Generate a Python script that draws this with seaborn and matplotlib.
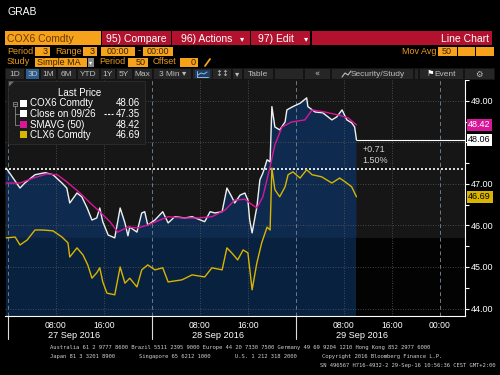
import numpy as np
import matplotlib
matplotlib.use("Agg")
import matplotlib.pyplot as plt
import matplotlib.transforms as mtransforms
from matplotlib.patches import Rectangle, Polygon
from matplotlib.lines import Line2D
import seaborn as sns

# ---------------- data (hours since 27 Sep 2016 00:00) ----------------
cox_hours = [-0.3, 2.0, 2.8, 4.5, 6.2, 7.5, 9.0, 9.8, 10.3, 11.5, 12.3, 13.2, 14.0, 14.8, 15.3, 15.8,
             16.7, 17.8, 18.7, 19.5, 20.0, 20.3, 21.5, 22.3, 22.8, 23.3, 24.5, 25.8, 26.7, 27.8, 29.5,
             30.7, 32.8, 33.7, 34.5, 35.7, 36.5, 37.3, 37.8, 38.7, 39.5, 40.0, 40.3, 40.7, 41.5, 42.0,
             42.5, 43.2, 43.7, 44.0, 44.5, 45.3, 46.2, 46.5, 47.5, 48.7, 49.8, 50.0, 51.2, 52.5, 54.0,
             54.8, 55.7, 56.5, 57.3, 57.8, 58.1]
cox_price = [47.38, 46.90, 47.02, 47.22, 47.27, 47.22, 47.02, 46.90, 46.54, 46.78, 46.69, 46.42, 46.13,
             46.18, 46.42, 46.09, 45.77, 45.70, 46.42, 46.06, 45.75, 45.96, 45.84, 46.30, 46.33, 46.01,
             46.13, 46.33, 46.06, 46.21, 46.18, 46.21, 46.09, 46.33, 46.30, 46.33, 46.90, 46.69, 46.54,
             46.73, 46.78, 46.61, 46.13, 45.82, 46.45, 47.10, 47.26, 47.58, 47.53, 48.86, 48.37, 48.30,
             48.49, 48.78, 48.86, 48.94, 49.07, 48.86, 48.73, 48.71, 48.54, 48.61, 48.78, 48.54, 48.47,
             48.37, 48.06]

sma_hours = [-0.3, 2.0, 4.2, 6.5, 8.2, 9.8, 12.0, 13.7, 15.3, 17.0, 18.3, 20.0, 21.7, 23.3, 26.7, 29.0,
             31.7, 34.0, 36.2, 37.8, 39.5, 40.5, 41.5, 42.5, 43.7, 44.5, 45.7, 47.3, 49.5, 50.7, 52.8,
             55.0, 56.7, 58.1]
sma_price = [47.02, 47.02, 47.14, 47.24, 47.22, 47.05, 46.78, 46.54, 46.33, 46.09, 45.84, 45.96, 45.94,
             46.01, 46.21, 46.18, 46.18, 46.21, 46.37, 46.61, 46.63, 46.52, 46.42, 46.69, 47.41, 47.94,
             48.37, 48.49, 48.54, 48.78, 48.73, 48.66, 48.59, 48.42]

clx_hours = [-0.3, 1.2, 2.0, 3.2, 4.5, 5.8, 7.5, 9.0, 10.0, 10.3, 11.5, 12.5, 13.3, 14.0, 14.8, 15.3,
             15.8, 16.5, 17.8, 18.7, 19.5, 20.3, 21.5, 22.3, 23.3, 24.5, 25.8, 26.7, 29.0, 30.7, 32.8,
             34.0, 35.7, 36.5, 37.3, 38.3, 39.2, 40.0, 40.7, 41.5, 42.3, 43.2, 43.7, 44.0, 44.5, 45.3,
             46.2, 46.7, 47.5, 48.7, 49.8, 50.7, 52.3, 54.0, 55.3, 56.2, 57.3, 58.1]
clx_price = [45.70, 45.72, 45.53, 45.65, 45.89, 45.89, 45.87, 45.72, 45.58, 45.24, 45.46, 45.29, 45.05,
             44.73, 44.86, 44.98, 44.64, 44.37, 44.33, 45.00, 44.61, 44.73, 44.52, 44.93, 45.05, 44.93,
             44.98, 44.64, 44.69, 44.81, 44.76, 44.98, 44.93, 45.46, 45.34, 45.17, 45.41, 45.34, 44.45,
             45.10, 45.58, 45.96, 45.89, 47.38, 46.86, 46.69, 46.93, 47.22, 47.29, 47.14, 47.34, 47.22,
             47.17, 47.02, 47.14, 47.05, 46.93, 46.69]

prev_close = 47.35
last_cox = 48.06
last_sma = 48.42
last_clx = 46.69
change_abs = "+0.71"
change_pct = "1.50%"

legend_names = ["COX6 Comdty", "Close on 09/26", "SMAVG (50)", "CLX6 Comdty"]
legend_values = ["48.06", "47.35", "48.42", "46.69"]
day_starts = [0, 24, 48]
day_labels = ["27 Sep 2016", "28 Sep 2016", "29 Sep 2016"]
day_label_pos = [11, 35, 59]
hour_ticks = [8, 16, 32, 40, 56, 64, 72]
hour_labels = ["08:00", "16:00", "08:00", "16:00", "08:00", "16:00", "00:00"]
y_ticks = [44, 45, 46, 47, 48, 49]

# ---------------- style ----------------
sns.set_style("dark")
FONT = ['Liberation Sans Narrow', 'Liberation Sans', 'DejaVu Sans']
plt.rcParams['font.family'] = FONT

WHITE = '#f0f0f0'
MAGENTA = '#d8169a'
YELLOW = '#d9b400'
ORANGE = '#f7a21b'
RED = '#b3122f'

fig = plt.figure(figsize=(5, 3.75), dpi=100, facecolor='black')
ax = fig.add_axes([5 / 500, 1 - 316 / 375, 460 / 500, 236 / 375])

ymin, ymax = 43.82, 49.5
xmin, xmax = -0.5, 76.2
ax.set_xlim(xmin, xmax)
ax.set_ylim(ymin, ymax)
ax.set_facecolor('#161616')
band = 45.7
ax.axhspan(ymin, band, color='#030303', lw=0, zorder=0.2)

h = np.array(cox_hours)
v = np.array(cox_price)
ax.fill_between(h, band, v, where=v > band, interpolate=True, color='#0e2b4f', lw=0, zorder=0.5)
ax.fill_between(h, ymin, np.minimum(v, band), color='#08213f', lw=0, zorder=0.5)

# grid
for t in y_ticks:
    ax.axhline(t, color='#5a5a5a', lw=0.6, ls=(0, (1, 2)), zorder=1)
for t in np.arange(8, 77, 8):
    if t % 24 == 0:
        ax.axvline(t, color='#6a7a8a', lw=0.7, ls=(0, (4, 3)), zorder=1)
    else:
        ax.axvline(t, color='#5a5a5a', lw=0.6, ls=(0, (1, 2)), zorder=1)
ax.axvline(0, color='#6a7a8a', lw=0.7, ls=(0, (4, 3)), zorder=1)

# previous close
ax.axhline(prev_close, color='white', lw=1.2, ls=(0, (1.2, 1.2)), zorder=3)

# series
sns.lineplot(x=clx_hours, y=clx_price, ax=ax, color=YELLOW, linewidth=1.0,
             estimator=None, sort=False, legend=False, zorder=4)
sns.lineplot(x=cox_hours, y=cox_price, ax=ax, color=WHITE, linewidth=1.0,
             estimator=None, sort=False, legend=False, zorder=5)
sns.lineplot(x=sma_hours, y=sma_price, ax=ax, color=MAGENTA, linewidth=1.0,
             estimator=None, sort=False, legend=False, zorder=6)

ax.hlines(last_cox, cox_hours[-1], xmax, color='white', lw=0.8, zorder=5)
ax.text(cox_hours[-1] + 1.0, last_cox - 0.12, change_abs, color='#d0d0d0', fontsize=6.5,
        va='top', ha='left', zorder=7)
ax.text(cox_hours[-1] + 1.0, last_cox - 0.38, change_pct, color='#d0d0d0', fontsize=6.5,
        va='top', ha='left', zorder=7)

# axes styling
for s in ['top', 'left']:
    ax.spines[s].set_visible(False)
for s in ['right', 'bottom']:
    ax.spines[s].set_color('white')
    ax.spines[s].set_linewidth(0.8)
ax.yaxis.tick_right()
ax.set_yticks(y_ticks)
last_vals = [last_cox, last_sma, last_clx]
# a tick label hidden behind a last-value box is left blank
ax.set_yticklabels(["" if min(abs(t - lv) for lv in last_vals) < 0.2 else f"{t:.2f}" for t in y_ticks])
ax.set_yticks(np.arange(44.5, 49.6, 1.0), minor=True)
ax.tick_params(axis='y', which='both', colors='white', labelsize=6.5, length=3, width=0.8,
               direction='out', pad=1.5, right=True, left=False)
ax.set_xticks(hour_ticks)
ax.set_xticklabels(hour_labels)
ax.set_xticks(np.arange(4, 76, 4), minor=True)
ax.tick_params(axis='x', which='major', colors='white', labelsize=6.2, length=3, width=0.8,
               direction='out', pad=0.8)
ax.tick_params(axis='x', which='minor', colors='white', length=2.5, width=0.7, direction='out')
ax.set_xlabel('')
ax.set_ylabel('')

xt = ax.get_xaxis_transform()
for d in day_starts:
    ax.add_line(Line2D([d, d], [0, -0.098], transform=xt, color='#dddddd', lw=0.8, clip_on=False))
for p, lab in zip(day_label_pos, day_labels):
    ax.annotate(lab, xy=(p, 0), xycoords=xt, xytext=(0, -14.2), textcoords='offset points',
                ha='center', va='center', color='white', fontsize=6.6)

# right-axis value boxes
bt = mtransforms.blended_transform_factory(ax.transAxes, ax.transData)
for val, fc, tc in [(last_sma, MAGENTA, 'white'), (last_cox, 'white', 'black'), (last_clx, YELLOW, 'black')]:
    ax.text(1.007, val, f"{val:.2f}", transform=bt, ha='left', va='center', fontsize=6.5, color=tc,
            bbox=dict(boxstyle='square,pad=0.18', fc=fc, ec='none'), clip_on=False, zorder=10)

# ---------------- overlay (terminal chrome) ----------------
ov = fig.add_axes([0, 0, 1, 1], zorder=5)
ov.set_xlim(0, 500)
ov.set_ylim(375, 0)
ov.axis('off')
ov.patch.set_alpha(0)


def box(x0, y0, x1, y1, fc, ec='none', lw=0.0, z=2):
    ov.add_patch(Rectangle((x0, y0), x1 - x0, y1 - y0, fc=fc, ec=ec, lw=lw, zorder=z))


def txt(x, y, s, color='white', size=7, ha='left', va='center', family=None, z=3):
    ov.text(x, y, s, color=color, fontsize=size, ha=ha, va=va, zorder=z,
            family=family if family else FONT)


txt(8, 12, "GRAB", size=7.5)

# row 1
box(5, 31, 101, 45, ORANGE)
txt(7, 38.5, "COX6 Comdty", color='#6b3a00', size=7.5)
box(102, 31, 170.5, 45, RED)
txt(136, 38.5, "95) Compare", size=7.5, ha='center')
box(172, 31, 249.5, 45, RED)
txt(207, 38.5, "96) Actions", size=7.5, ha='center')
txt(242, 38.5, "▾", size=6, ha='center', family=['DejaVu Sans'])
box(251, 31, 310, 45, RED)
txt(276, 38.5, "97) Edit", size=7.5, ha='center')
txt(306, 38.5, "▾", size=6, ha='center', family=['DejaVu Sans'])
box(312, 31, 492, 45, RED)
txt(489, 39, "Line Chart", size=7.5, ha='right')

# row 2
OTXT = '#e89a1c'
DTXT = '#3a2000'
txt(7, 51, "Period", color=OTXT, size=6.5)
box(35, 46.5, 50, 56, ORANGE)
txt(48, 51.3, "3", color=DTXT, size=6.5, ha='right')
txt(55, 51, "Range", color=OTXT, size=6.5)
box(83, 46.5, 97, 56, ORANGE)
txt(95, 51.3, "3", color=DTXT, size=6.5, ha='right')
box(101, 46.5, 135, 56, ORANGE)
txt(118, 51.3, "00:00", color=DTXT, size=6.5, ha='center')
txt(139, 51, "-", color=OTXT, size=6.5, ha='center')
box(143, 46.5, 173, 56, ORANGE)
txt(158, 51.3, "00:00", color=DTXT, size=6.5, ha='center')
txt(402, 51, "Mov Avg", color=OTXT, size=6.5)
box(438, 46.5, 456.5, 56, ORANGE)
txt(447, 51.3, "50", color=DTXT, size=6.5, ha='center')
box(457.5, 46.5, 475, 56, ORANGE)
box(476, 46.5, 494, 56, ORANGE)

# row 3
txt(7, 62, "Study", color=OTXT, size=6.5)
box(35, 57.5, 87, 67, ORANGE)
txt(37, 62.3, "Simple MA", color=DTXT, size=6.5)
box(88, 57.5, 93.5, 67, '#8a8a8a')
txt(90.8, 62.3, "▾", color='white', size=4.5, ha='center', family=['DejaVu Sans'])
txt(99, 62, "Period", color=OTXT, size=6.5)
box(128, 57.5, 148, 67, ORANGE)
txt(146, 62.3, "50", color=DTXT, size=6.5, ha='right')
txt(153, 62, "Offset", color=OTXT, size=6.5)
box(180, 57.5, 198, 67, ORANGE)
txt(196, 62.3, "0", color=DTXT, size=6.5, ha='right')
ov.add_line(Line2D([205, 210], [66, 59], color=ORANGE, lw=1.3, zorder=3))

# row 4 toolbar
box(5, 68, 495, 79.5, '#141414')
TB = '#262626'
TTXT = '#bdbdbd'
buttons = [("1D", 6, 24), ("3D", 26, 39), ("1M", 40.5, 56), ("6M", 57.5, 76), ("YTD", 77.5, 99),
           ("1Y", 100.5, 115), ("5Y", 116.5, 132), ("Max", 133.5, 152), ("3 Min ▾", 153.5, 191),
           ("", 193, 211.5), ("↕↕", 213, 231), ("▾", 232.5, 242), ("Table", 243.5, 273),
           ("", 274.5, 303), ("«", 304.5, 330), ("Security/Study", 331.5, 413), ("", 414.5, 418),
           ("Event", 419.5, 463), ("⚙", 464.5, 494)]
for lab, x0, x1 in buttons:
    fc = '#2b5d8f' if lab == "3D" else TB
    box(x0, 69, x1, 79, fc)
    if lab:
        cx = (x0 + x1) / 2
        if lab == "Security/Study":
            txt(cx + 6, 74, lab, color=TTXT, size=6, ha='center')
        elif lab == "Event":
            txt(cx + 4, 74, lab, color=TTXT, size=6, ha='center')
        else:
            txt(cx, 74, lab, color=TTXT, size=6, ha='center',
                family=['DejaVu Sans'] if lab in ("↕↕", "▾", "⚙", "«") else None)
# chart icon (blue outlined)
box(195, 70, 210, 78, '#1d3f66')
ov.add_line(Line2D([197, 197, 208], [71, 77, 77], color='#8fb8e0', lw=0.7, zorder=3))
ov.add_line(Line2D([198, 201, 204, 207], [75, 73, 74, 72], color='#8fb8e0', lw=0.7, zorder=3))
# security/study icon
ov.add_line(Line2D([342, 345, 348, 351], [77, 73, 75, 71], color=TTXT, lw=0.8, zorder=3))
# event flag
txt(430, 74, "⚑", color='white', size=6, ha='center', family=['DejaVu Sans'])

# legend panel
box(8, 80.5, 145, 144, '#1b1b1b', ec='#2e2e2e', lw=0.6, z=6)
ov.add_patch(Polygon([(9, 81.5), (14, 81.5), (9, 86.5)], closed=True, fc='#707070', ec='none', zorder=7))
txt(80, 93, "Last Price", size=7, ha='center', z=7)
row_y = [103.5, 114, 124.5, 135]
sq_colors = ['white', 'white', MAGENTA, YELLOW]
for yy, name, val, c in zip(row_y, legend_names, legend_values, sq_colors):
    ov.add_patch(Rectangle((20, yy - 3.6), 7, 7, fc=c, ec='none', zorder=7))
    txt(30.5, yy, name, size=7, z=7)
    txt(140, yy, val, size=7, ha='right', z=7)
ov.add_line(Line2D([104, 113], [114, 114], color='white', lw=0.8, ls=(0, (2, 1.2)), zorder=7))
# tree glyph
ov.add_patch(Rectangle((13, 101.5), 4, 4, fc='none', ec='#a0a0a0', lw=0.5, zorder=7))
ov.add_line(Line2D([13.8, 16.2], [103.5, 103.5], color='#a0a0a0', lw=0.5, zorder=7))
ov.add_line(Line2D([15, 15, 18.5], [105.5, 124.5, 124.5], color='#a0a0a0', lw=0.5, zorder=7))
ov.add_line(Line2D([15, 18.5], [114, 114], color='#a0a0a0', lw=0.5, zorder=7))

# footer
MONO = ['DejaVu Sans Mono']
FC = '#cfcfcf'
txt(50, 348, "Australia 61 2 9777 8600 Brazil 5511 2395 9000 Europe 44 20 7330 7500 "
             "Germany 49 69 9204 1210 Hong Kong 852 2977 6000", color=FC, size=4, family=MONO)
txt(50, 356.5, "Japan 81 3 3201 8900", color=FC, size=4, family=MONO)
txt(139, 356.5, "Singapore 65 6212 1000", color=FC, size=4, family=MONO)
txt(235, 356.5, "U.S. 1 212 318 2000", color=FC, size=4, family=MONO)
txt(322, 356.5, "Copyright 2016 Bloomberg Finance L.P.", color=FC, size=4, family=MONO)
txt(495, 365, "SN 496567 H716-4932-2 29-Sep-16 10:56:36 CEST GMT+2:00", color=FC, size=4,
    family=MONO, ha='right')

fig.savefig("out.png", dpi=100, facecolor='black')
